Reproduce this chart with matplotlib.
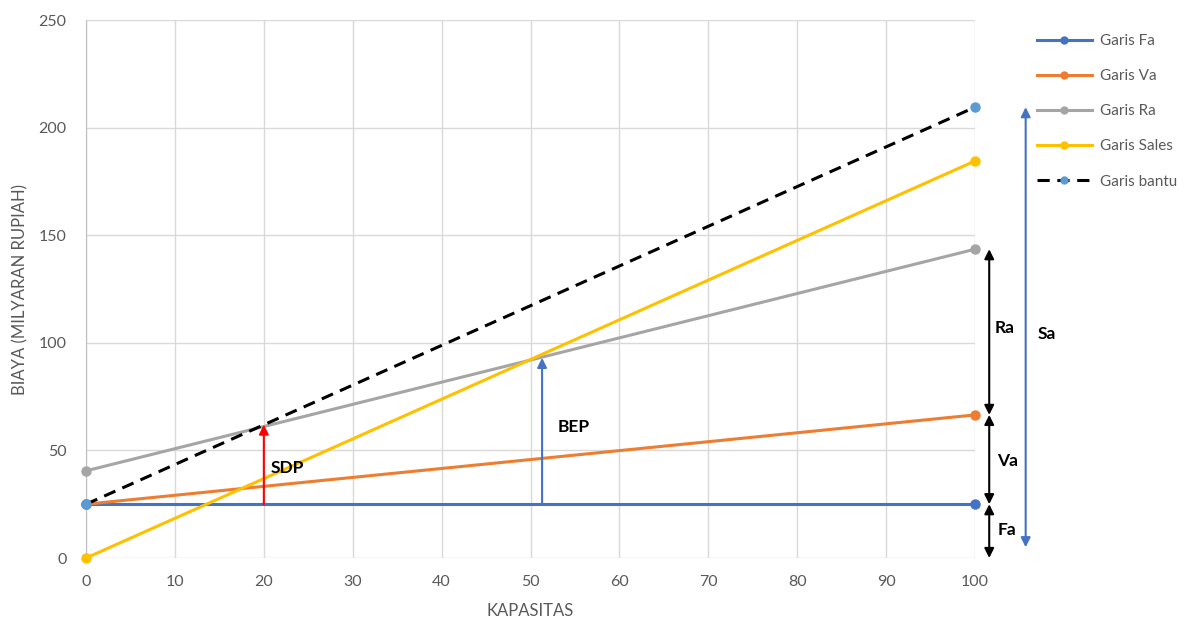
import matplotlib
matplotlib.use("Agg")
import matplotlib.pyplot as plt

plt.rcParams['font.family'] = ['Lato', 'DejaVu Sans']

kapasitas = [0, 100]
garis_fa = [25, 25]
garis_va = [25, 66.5]
garis_ra = [40.5, 143.5]
garis_sales = [0, 184.5]
garis_bantu = [25, 209.5]

labels = ["Garis Fa", "Garis Va", "Garis Ra", "Garis Sales", "Garis bantu"]
colors = ["#4472C4", "#ED7D31", "#A5A5A5", "#FFC000", "#000000"]

sdp_x, sdp_y = 20, 62
bep_x, bep_y = 51.3, 93

fig = plt.figure(figsize=(11.87, 6.2), dpi=100)
ax = fig.add_axes([0.0725, 0.1, 0.7489, 0.8677])

series = [garis_fa, garis_va, garis_ra, garis_sales]
for vals, lab, c in zip(series, labels[:4], colors[:4]):
    ax.plot(kapasitas, vals, color=c, lw=2.2, marker='o', ms=6.5, label=lab, zorder=3, clip_on=False)
ax.plot(kapasitas, garis_bantu, color='black', lw=2.2, ls=(0, (4, 2.5)), marker='o', ms=6.5,
        mfc='#5B9BD5', mec='#5B9BD5', label=labels[4], zorder=4, clip_on=False)

ax.set_xlim(0, 100)
ax.set_ylim(0, 250)
ax.set_xticks(range(0, 101, 10))
ax.set_yticks(range(0, 251, 50))
ax.grid(True, color='#D9D9D9', lw=1)
ax.set_axisbelow(True)
for s in ['top', 'right', 'bottom']:
    ax.spines[s].set_visible(False)
ax.spines['left'].set_color('#BFBFBF')
ax.tick_params(length=0, colors='#595959', labelsize=11.5)
ax.tick_params(axis='x', pad=12)
ax.tick_params(axis='y', pad=14)
ax.set_xlabel("KAPASITAS", color='#595959', fontsize=12, labelpad=10)
ax.set_ylabel("BIAYA (MILYARAN RUPIAH)", color='#595959', fontsize=12, labelpad=7)

# SDP and BEP arrows
ax.annotate("", xy=(sdp_x, sdp_y), xytext=(sdp_x, garis_fa[0]),
            arrowprops=dict(arrowstyle='-|>', color='red', lw=1.5, mutation_scale=14, shrinkA=0, shrinkB=0), zorder=5)
ax.text(sdp_x + 0.8, 42, "SDP", fontsize=12.5, fontweight='bold', va='center', ha='left')
ax.annotate("", xy=(bep_x, bep_y), xytext=(bep_x, garis_fa[0]),
            arrowprops=dict(arrowstyle='-|>', color='#4472C4', lw=1.5, mutation_scale=14, shrinkA=0, shrinkB=0), zorder=5)
ax.text(bep_x + 1.8, 61, "BEP", fontsize=12.5, fontweight='bold', va='center', ha='left')

# right side dimension arrows
def dim(x, y0, y1, color, text, tx, ty):
    ax.annotate("", xy=(x, y1), xytext=(x, y0), annotation_clip=False,
                arrowprops=dict(arrowstyle='<|-|>', color=color, lw=1.5, mutation_scale=14, shrinkA=0, shrinkB=0))
    ax.text(tx, ty, text, fontsize=12.5, fontweight='bold', va='center', ha='left', clip_on=False)

dim(101.6, garis_va[1], garis_ra[1], 'black', "Ra", 102.2, 107)
dim(101.6, garis_fa[1], garis_va[1], 'black', "Va", 102.5, 45)
dim(101.6, 0, garis_fa[1], 'black', "Fa", 102.5, 13)
dim(105.7, 5, garis_bantu[1], '#4472C4', "Sa", 107.0, 104)

leg = fig.legend(loc='upper left', bbox_to_anchor=(0.862, 0.967), frameon=False, fontsize=11,
                 labelspacing=1.38, handlelength=3.6, handletextpad=0.5, labelcolor='#595959')
for h in leg.legend_handles:
    h.set_markersize(5)

fig.savefig("out.png", dpi=100)
